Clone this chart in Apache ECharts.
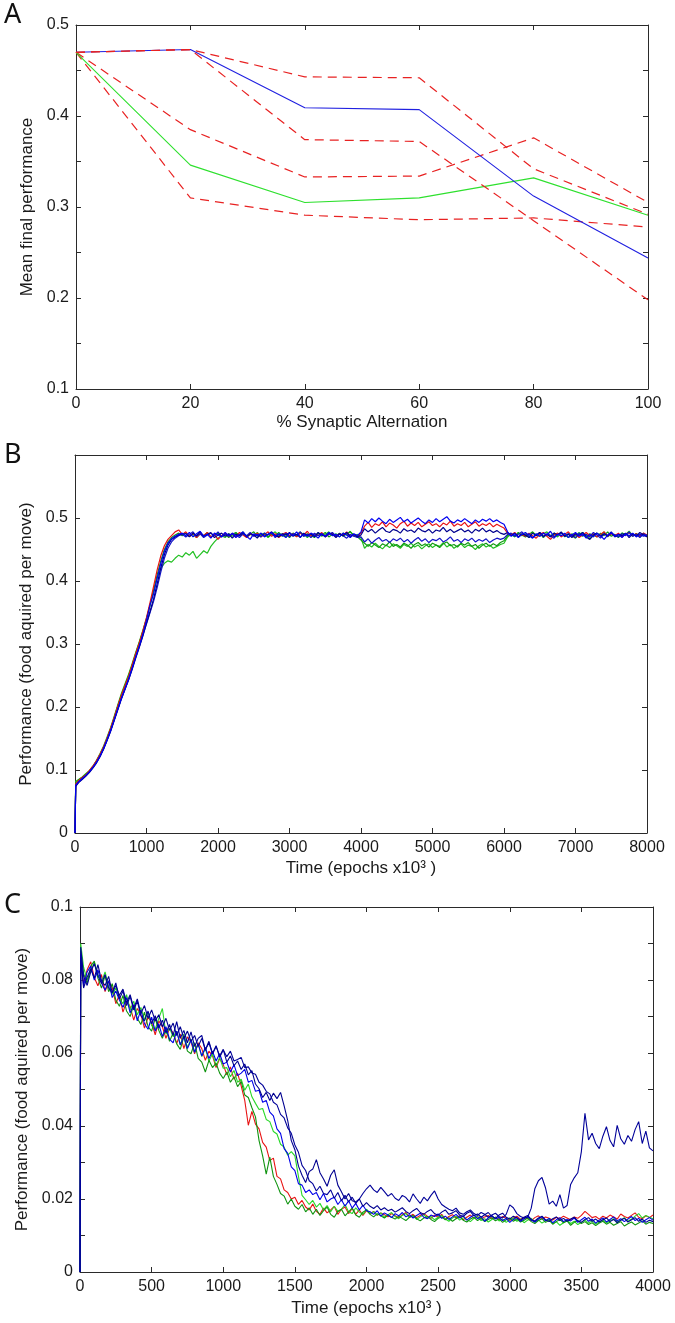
<!DOCTYPE html>
<html>
<head>
<meta charset="utf-8">
<script src="https://cdn.jsdelivr.net/npm/echarts@6/dist/echarts.min.js"></script>
<style>html,body{margin:0;padding:0;background:#fff}#c{width:675px;height:1323px}</style>
</head>
<body>
<div id="c"></div>
<script>
// ---------- Panel A ----------
const pctA = [0, 20, 40, 60, 80, 100];
const blueA = [0.470, 0.473, 0.409, 0.407, 0.312, 0.244];
const greenA = [0.470, 0.346, 0.305, 0.310, 0.332, 0.291];
const redA1 = [0.470, 0.473, 0.443, 0.442, 0.342, 0.292];
const redA2 = [0.470, 0.473, 0.374, 0.372, 0.285, 0.198];
const redA3 = [0.470, 0.385, 0.333, 0.334, 0.376, 0.305];
const redA4 = [0.470, 0.310, 0.291, 0.286, 0.288, 0.278];

// ---------- Panel B (sample times: 0, 10, then every 50 up to 8000) ----------
const timeB = [0, 10];
for (let t = 50; t <= 8000; t += 50) timeB.push(t);

const redB = [0, 0.078,
0.083,0.088,0.092,0.099,0.106,0.115,0.125,0.137,0.151,0.167,0.184,0.202,0.219,0.234,0.249,0.267,0.285,0.302,0.321,0.342,0.366,0.392,0.418,0.440,0.456,0.466,0.472,0.478,0.481,0.474,
0.478,0.471,0.476,0.469,0.475,0.472,0.477,0.470,0.474,0.466,0.472,0.476,0.471,0.475,0.470,0.477,0.473,0.469,0.475,0.472,0.476,0.470,0.474,0.478,0.471,0.475,0.469,0.474,0.477,0.472,0.475,0.470,0.476,0.473,0.479,0.471,0.475,0.472,0.477,0.470,0.474,0.476,0.471,0.475,0.473,0.478,0.470,0.474,0.471,
0.476,
0.487,0.493,0.485,0.491,0.488,0.494,0.486,0.492,0.489,0.484,0.491,0.495,0.487,0.492,0.488,0.493,0.486,0.490,0.494,0.488,0.491,0.486,0.492,0.489,0.495,0.487,0.491,0.488,0.493,0.486,0.490,0.494,0.487,0.491,0.488,0.492,0.486,0.490,0.487,
0.484,0.476,
0.473,0.477,0.470,0.474,0.471,0.476,0.472,0.468,0.474,0.477,0.471,0.466,0.473,0.476,0.470,0.474,0.478,0.471,0.475,0.469,0.473,0.477,0.472,0.475,0.470,0.474,0.478,0.471,0.475,0.472,0.476,0.470,0.474,0.477,0.472,0.475,0.471,0.476,0.473];

const blueB = [0, 0.076,
0.081,0.086,0.091,0.097,0.104,0.112,0.122,0.134,0.148,0.163,0.180,0.197,0.214,0.229,0.244,0.262,0.280,0.297,0.316,0.338,0.362,0.380,0.405,0.428,0.447,0.460,0.467,0.471,0.474,0.476,
0.472,0.477,0.470,0.475,0.479,0.471,0.474,0.468,0.476,0.473,0.470,0.477,0.472,0.475,0.469,0.474,0.478,0.471,0.466,0.475,0.472,0.476,0.470,0.474,0.477,0.471,0.475,0.473,0.469,0.476,0.472,0.478,0.470,0.474,0.471,0.476,0.473,0.468,0.475,0.471,0.477,0.472,0.474,0.470,0.476,0.473,0.469,0.475,0.472,
0.478,
0.497,0.492,0.499,0.494,0.500,0.495,0.491,0.498,0.493,0.497,0.501,0.494,0.498,0.492,0.496,0.500,0.495,0.491,0.497,0.493,0.499,0.494,0.498,0.502,0.495,0.492,0.497,0.494,0.499,0.495,0.491,0.497,0.493,0.498,0.495,0.499,0.494,0.497,0.493,
0.490,0.478,
0.471,0.475,0.469,0.474,0.477,0.472,0.468,0.475,0.471,0.476,0.473,0.479,0.470,0.474,0.472,0.476,0.469,0.473,0.477,0.471,0.475,0.468,0.474,0.470,0.476,0.472,0.466,0.473,0.477,0.471,0.474,0.469,0.475,0.472,0.476,0.470,0.474,0.471,0.473];

const navyB = [0, 0.074,
0.080,0.085,0.090,0.096,0.103,0.111,0.121,0.133,0.147,0.162,0.179,0.196,0.213,0.228,0.243,0.260,0.278,0.295,0.313,0.333,0.352,0.372,0.396,0.421,0.442,0.457,0.466,0.470,0.473,0.475,
0.475,0.470,0.476,0.472,0.478,0.471,0.474,0.477,0.469,0.473,0.476,0.471,0.475,0.468,0.474,0.472,0.477,0.470,0.475,0.473,0.468,0.476,0.471,0.474,0.478,0.472,0.470,0.475,0.473,0.477,0.471,0.474,0.469,0.476,0.472,0.475,0.470,0.477,0.473,0.471,0.476,0.474,0.469,0.475,0.472,0.477,0.471,0.474,0.470,
0.473,
0.483,0.478,0.482,0.476,0.481,0.485,0.479,0.477,0.482,0.480,0.476,0.483,0.479,0.481,0.477,0.484,0.480,0.478,0.482,0.476,0.481,0.479,0.485,0.478,0.482,0.477,0.480,0.483,0.478,0.481,0.476,0.482,0.479,0.484,0.478,0.481,0.477,0.480,0.476,
0.474,0.477,
0.472,0.476,0.470,0.475,0.473,0.469,0.476,0.472,0.477,0.471,0.474,0.470,0.476,0.473,0.478,0.471,0.474,0.469,0.475,0.472,0.477,0.470,0.466,0.473,0.476,0.471,0.475,0.472,0.478,0.470,0.474,0.472,0.476,0.469,0.475,0.471,0.477,0.473,0.470];

const blue2B = [0, 0.075,
0.081,0.086,0.091,0.097,0.104,0.112,0.122,0.134,0.148,0.163,0.180,0.197,0.214,0.229,0.244,0.261,0.279,0.296,0.314,0.332,0.350,0.368,0.390,0.414,0.436,0.452,0.462,0.468,0.472,0.474,
0.470,0.474,0.478,0.471,0.475,0.469,0.473,0.476,0.472,0.478,0.470,0.474,0.471,0.476,0.473,0.469,0.475,0.472,0.477,0.471,0.474,0.470,0.476,0.473,0.477,0.469,0.474,0.472,0.476,0.470,0.475,0.473,0.478,0.471,0.474,0.469,0.476,0.472,0.475,0.470,0.474,0.477,0.471,0.475,0.472,0.468,0.474,0.471,0.469,
0.470,
0.462,0.467,0.460,0.465,0.469,0.463,0.466,0.461,0.467,0.464,0.468,0.462,0.466,0.460,0.465,0.469,0.463,0.467,0.461,0.466,0.464,0.468,0.462,0.465,0.470,0.463,0.466,0.461,0.467,0.464,0.468,0.462,0.466,0.463,0.467,0.461,0.465,0.468,0.466,
0.468,0.474,
0.476,0.471,0.474,0.478,0.472,0.475,0.469,0.473,0.477,0.470,0.475,0.472,0.468,0.474,0.476,0.471,0.475,0.473,0.469,0.476,0.472,0.474,0.470,0.477,0.473,0.468,0.475,0.471,0.476,0.473,0.470,0.475,0.472,0.478,0.471,0.474,0.469,0.475,0.472];

const greenB = [0, 0.082,
0.085,0.089,0.094,0.099,0.106,0.115,0.126,0.138,0.153,0.168,0.186,0.204,0.222,0.237,0.252,0.269,0.287,0.304,0.322,0.341,0.362,0.385,0.405,0.420,0.428,0.432,0.430,0.436,0.441,0.438,
0.445,0.441,0.447,0.436,0.442,0.448,0.444,0.455,0.462,0.468,
0.472,0.469,0.475,0.471,0.476,0.473,0.478,0.470,0.474,0.472,0.477,0.471,0.475,0.469,0.474,0.478,0.472,0.475,0.470,0.476,0.473,0.471,0.477,0.474,0.469,0.475,0.472,0.476,0.471,0.474,0.478,0.472,0.475,0.470,0.476,0.473,0.479,0.471,0.474,
0.468,
0.452,0.458,0.454,0.460,0.455,0.451,0.457,0.453,0.459,0.456,0.452,0.458,0.455,0.460,0.454,0.457,0.451,0.456,0.459,0.453,0.457,0.455,0.461,0.454,0.458,0.452,0.456,0.459,0.453,0.457,0.455,0.450,0.456,0.459,0.454,0.457,0.452,0.455,0.458,
0.460,0.470,
0.474,0.470,0.476,0.472,0.475,0.469,0.477,0.473,0.471,0.475,0.478,0.472,0.474,0.470,0.476,0.473,0.469,0.475,0.472,0.477,0.471,0.474,0.467,0.473,0.476,0.472,0.478,0.470,0.475,0.473,0.471,0.476,0.474,0.479,0.472,0.475,0.470,0.474,0.472];

const dgreenB = [0, 0.080,
0.084,0.088,0.093,0.098,0.105,0.114,0.124,0.136,0.150,0.166,0.184,0.202,0.220,0.235,0.250,0.267,0.285,0.302,0.320,0.340,0.362,0.386,0.410,0.432,0.450,0.462,0.469,0.473,0.476,0.472,
0.476,0.471,0.474,0.469,0.475,0.472,0.477,0.470,0.473,0.476,0.471,0.475,0.469,0.474,0.477,0.472,0.475,0.470,0.474,0.478,0.471,0.473,0.476,0.470,0.475,0.472,0.477,0.471,0.474,0.469,0.476,0.473,0.478,0.471,0.475,0.472,0.469,0.476,0.473,0.477,0.470,0.474,0.472,0.476,0.471,0.475,0.478,0.473,0.470,
0.465,
0.460,0.455,0.461,0.457,0.453,0.459,0.456,0.462,0.455,0.458,0.454,0.460,0.457,0.452,0.458,0.461,0.456,0.459,0.454,0.460,0.457,0.453,0.459,0.462,0.456,0.458,0.454,0.460,0.457,0.461,0.455,0.458,0.452,0.457,0.460,0.455,0.459,0.456,0.461,
0.464,0.472,
0.475,0.471,0.477,0.473,0.470,0.474,0.478,0.472,0.476,0.469,0.474,0.471,0.476,0.473,0.477,0.470,0.475,0.472,0.468,0.474,0.477,0.471,0.475,0.473,0.470,0.476,0.472,0.478,0.471,0.474,0.469,0.476,0.473,0.477,0.471,0.475,0.472,0.476,0.471];

// ---------- Panel C (sample times: 0, 5, then every 25 up to 4000) ----------
const timeC = [0, 5];
for (let t = 25; t <= 4000; t += 25) timeC.push(t);

const redC = [0, 0.0840,
0.0792,0.0828,0.0850,0.0806,0.0784,0.0815,0.0768,0.0796,0.0779,0.0735,0.0760,0.0712,0.0741,0.0728,0.0690,0.0722,0.0705,0.0668,0.0698,0.0684,0.0650,0.0688,0.0672,0.0640,0.0668,0.0655,0.0626,0.0652,0.0612,0.0644,0.0630,0.0598,0.0628,0.0612,0.0580,0.0605,0.0592,0.0560,0.0585,0.0568,
0.0540,0.0562,0.0528,0.0545,0.0510,0.0470,0.0402,0.0440,0.0405,0.0392,0.0355,0.0342,0.0305,0.0312,0.0262,0.0255,0.0225,0.0218,0.0200,0.0205,0.0185,0.0196,0.0178,0.0170,0.0186,0.0166,0.0158,0.0175,0.0162,0.0170,0.0180,0.0158,0.0172,0.0178,0.0160,0.0174,0.0158,0.0170,0.0155,0.0168,
0.0159,0.0166,0.0155,0.0162,0.0157,0.0151,0.0160,0.0154,0.0148,0.0157,0.0163,0.0152,0.0158,0.0149,0.0155,0.0160,0.0153,0.0147,0.0156,0.0150,0.0158,0.0145,0.0152,0.0157,0.0148,0.0154,0.0143,0.0150,0.0156,0.0147,0.0152,0.0145,0.0151,0.0155,0.0146,0.0150,0.0144,0.0152,0.0147,0.0141,
0.0148,0.0153,0.0144,0.0150,0.0146,0.0140,0.0149,0.0154,0.0145,0.0151,0.0147,0.0142,0.0150,0.0146,0.0153,0.0148,0.0143,0.0151,0.0147,0.0155,0.0166,0.0158,0.0149,0.0152,0.0145,0.0153,0.0148,0.0156,0.0151,0.0145,0.0159,0.0152,0.0148,0.0155,0.0162,0.0150,0.0146,0.0154,0.0149,0.0156];

const dgreenC = [0, 0.0880,
0.0818,0.0790,0.0838,0.0852,0.0805,0.0778,0.0812,0.0768,0.0790,0.0745,0.0728,0.0758,0.0715,0.0700,0.0732,0.0695,0.0678,0.0712,0.0672,0.0660,0.0695,0.0662,0.0640,0.0668,0.0632,0.0655,0.0625,0.0610,0.0645,0.0605,0.0598,0.0628,0.0585,0.0575,0.0548,0.0580,0.0560,0.0572,0.0545,0.0530,
0.0548,0.0520,0.0535,0.0508,0.0522,0.0485,0.0478,0.0450,0.0425,0.0360,0.0318,0.0268,0.0315,0.0262,0.0240,0.0215,0.0208,0.0186,0.0200,0.0180,0.0172,0.0185,0.0165,0.0176,0.0158,0.0172,0.0155,0.0168,0.0178,0.0158,0.0150,0.0166,0.0172,0.0154,0.0165,0.0175,0.0156,0.0150,0.0164,0.0170,
0.0158,0.0151,0.0160,0.0154,0.0148,0.0156,0.0150,0.0145,0.0153,0.0147,0.0141,0.0150,0.0155,0.0146,0.0140,0.0148,0.0152,0.0144,0.0138,0.0147,0.0151,0.0143,0.0149,0.0139,0.0146,0.0152,0.0142,0.0137,0.0145,0.0150,0.0141,0.0147,0.0138,0.0144,0.0149,0.0140,0.0146,0.0136,0.0143,0.0148,
0.0139,0.0145,0.0137,0.0142,0.0148,0.0138,0.0133,0.0141,0.0146,0.0136,0.0142,0.0131,0.0138,0.0144,0.0135,0.0140,0.0128,0.0136,0.0141,0.0133,0.0138,0.0130,0.0135,0.0127,0.0134,0.0139,0.0131,0.0136,0.0128,0.0133,0.0138,0.0126,0.0132,0.0137,0.0129,0.0134,0.0140,0.0131,0.0136,0.0133];

const greenC = [0, 0.0900,
0.0835,0.0800,0.0825,0.0848,0.0815,0.0795,0.0822,0.0782,0.0760,0.0778,0.0750,0.0735,0.0760,0.0718,0.0742,0.0705,0.0725,0.0692,0.0712,0.0675,0.0665,0.0695,0.0722,0.0652,0.0668,0.0645,0.0660,0.0622,0.0652,0.0615,0.0638,0.0602,0.0625,0.0590,0.0612,0.0578,0.0598,0.0565,0.0588,0.0558,
0.0560,0.0535,0.0552,0.0520,0.0528,0.0498,0.0515,0.0480,0.0462,0.0445,0.0448,0.0418,0.0412,0.0385,0.0378,0.0350,0.0342,0.0320,0.0330,0.0318,0.0262,0.0210,0.0198,0.0185,0.0196,0.0178,0.0188,0.0170,0.0182,0.0165,0.0180,0.0166,0.0172,0.0185,0.0165,0.0160,0.0176,0.0164,0.0158,0.0172,
0.0160,0.0165,0.0156,0.0162,0.0150,0.0157,0.0163,0.0152,0.0146,0.0155,0.0160,0.0149,0.0154,0.0144,0.0151,0.0157,0.0147,0.0152,0.0143,0.0150,0.0155,0.0145,0.0139,0.0148,0.0153,0.0142,0.0149,0.0144,0.0138,0.0147,0.0152,0.0141,0.0146,0.0137,0.0144,0.0150,0.0140,0.0145,0.0136,0.0143,
0.0148,0.0139,0.0145,0.0135,0.0142,0.0147,0.0137,0.0143,0.0134,0.0140,0.0146,0.0132,0.0138,0.0128,0.0135,0.0141,0.0133,0.0139,0.0130,0.0136,0.0142,0.0134,0.0140,0.0131,0.0137,0.0143,0.0135,0.0140,0.0146,0.0137,0.0142,0.0149,0.0139,0.0145,0.0153,0.0160,0.0148,0.0155,0.0150,0.0146];

const blueC = [0, 0.0870,
0.0785,0.0822,0.0838,0.0800,0.0828,0.0792,0.0772,0.0798,0.0752,0.0770,0.0745,0.0725,0.0752,0.0710,0.0732,0.0688,0.0718,0.0680,0.0665,0.0698,0.0660,0.0680,0.0645,0.0672,0.0638,0.0628,0.0660,0.0622,0.0645,0.0612,0.0635,0.0602,0.0625,0.0592,0.0615,0.0585,0.0605,0.0578,0.0598,0.0570,
0.0575,0.0548,0.0568,0.0538,0.0545,0.0555,0.0520,0.0525,0.0495,0.0498,0.0465,0.0470,0.0438,0.0428,0.0392,0.0380,0.0338,0.0325,0.0288,0.0278,0.0242,0.0238,0.0218,0.0225,0.0212,0.0218,0.0198,0.0215,0.0192,0.0200,0.0205,0.0185,0.0198,0.0180,0.0195,0.0175,0.0188,0.0170,0.0183,0.0168,
0.0165,0.0158,0.0168,0.0153,0.0162,0.0156,0.0149,0.0160,0.0154,0.0163,0.0151,0.0157,0.0148,0.0155,0.0161,0.0150,0.0146,0.0156,0.0152,0.0159,0.0147,0.0153,0.0144,0.0151,0.0158,0.0148,0.0154,0.0142,0.0150,0.0156,0.0146,0.0152,0.0139,0.0148,0.0155,0.0145,0.0150,0.0141,0.0147,0.0136,
0.0144,0.0150,0.0139,0.0146,0.0152,0.0142,0.0137,0.0145,0.0151,0.0140,0.0147,0.0135,0.0143,0.0149,0.0138,0.0144,0.0140,0.0148,0.0136,0.0143,0.0150,0.0139,0.0145,0.0134,0.0142,0.0148,0.0137,0.0144,0.0151,0.0140,0.0146,0.0138,0.0145,0.0152,0.0141,0.0147,0.0136,0.0143,0.0149,0.0142];

const navyC = [0, 0.0860,
0.0778,0.0808,0.0830,0.0805,0.0842,0.0798,0.0785,0.0810,0.0765,0.0785,0.0758,0.0775,0.0738,0.0760,0.0722,0.0748,0.0708,0.0730,0.0695,0.0718,0.0688,0.0705,0.0672,0.0695,0.0662,0.0682,0.0648,0.0672,0.0640,0.0660,0.0632,0.0648,0.0618,0.0640,0.0608,0.0632,0.0598,0.0618,0.0592,0.0610,
0.0575,0.0592,0.0565,0.0578,0.0555,0.0570,0.0540,0.0552,0.0515,0.0502,0.0478,0.0492,0.0470,0.0490,0.0475,0.0492,0.0455,0.0415,0.0360,0.0335,0.0290,0.0265,0.0245,0.0275,0.0282,0.0308,0.0272,0.0255,0.0235,0.0265,0.0280,0.0238,0.0220,0.0200,0.0215,0.0195,0.0192,0.0200,0.0180,0.0190,
0.0180,0.0174,0.0182,0.0170,0.0176,0.0168,0.0172,0.0164,0.0170,0.0176,0.0166,0.0160,0.0168,0.0174,0.0163,0.0158,0.0166,0.0171,0.0160,0.0155,0.0164,0.0170,0.0158,0.0162,0.0168,0.0156,0.0152,0.0161,0.0166,0.0154,0.0159,0.0150,0.0157,0.0163,0.0152,0.0147,0.0156,0.0161,0.0150,0.0145,
0.0153,0.0148,0.0142,0.0150,0.0155,0.0144,0.0140,0.0148,0.0153,0.0143,0.0138,0.0146,0.0151,0.0141,0.0147,0.0139,0.0145,0.0150,0.0140,0.0136,0.0144,0.0149,0.0139,0.0145,0.0137,0.0143,0.0148,0.0138,0.0144,0.0135,0.0142,0.0147,0.0137,0.0143,0.0149,0.0139,0.0145,0.0136,0.0142,0.0138];

const navy2C = [0, 0.0890,
0.0810,0.0785,0.0822,0.0845,0.0812,0.0790,0.0815,0.0778,0.0765,0.0792,0.0748,0.0770,0.0730,0.0755,0.0718,0.0742,0.0702,0.0688,0.0715,0.0680,0.0702,0.0668,0.0690,0.0655,0.0678,0.0648,0.0686,0.0640,0.0662,0.0628,0.0658,0.0618,0.0640,0.0648,0.0608,0.0628,0.0598,0.0620,0.0588,0.0608,
0.0590,0.0605,0.0578,0.0582,0.0588,0.0560,0.0562,0.0545,0.0542,0.0520,0.0512,0.0495,0.0488,0.0465,0.0458,0.0432,0.0422,0.0395,0.0380,0.0348,0.0328,0.0292,0.0278,0.0250,0.0242,0.0222,0.0235,0.0215,0.0212,0.0225,0.0202,0.0218,0.0195,0.0210,0.0192,0.0205,0.0188,0.0200,0.0215,0.0228,
0.0238,0.0225,0.0218,0.0232,0.0220,0.0208,0.0215,0.0202,0.0196,0.0210,0.0204,0.0192,0.0214,0.0200,0.0188,0.0205,0.0195,0.0210,0.0222,0.0200,0.0185,0.0178,0.0172,0.0168,0.0175,0.0162,0.0158,0.0165,0.0170,0.0160,0.0155,0.0163,0.0158,0.0150,0.0156,0.0161,0.0152,0.0148,0.0158,0.0184,
0.0176,0.0160,0.0152,0.0148,0.0150,0.0175,0.0228,0.0250,0.0259,0.0230,0.0186,0.0194,0.0180,0.0212,0.0175,0.0182,0.0240,0.0258,0.0272,0.0330,0.0435,0.0362,0.0380,0.0352,0.0338,0.0372,0.0398,0.0360,0.0343,0.0402,0.0365,0.0350,0.0374,0.0358,0.0390,0.0412,0.0352,0.0386,0.0340,0.0332];

// ---------- labels ----------
const panelLetters = ['A', 'B', 'C'];
const xNames = ['% Synaptic Alternation', 'Time (epochs x10\u00B3 )', 'Time (epochs x10\u00B3 )'];
const yNames = ['Mean final performance', 'Performance (food aquired per move)', 'Performance (food aquired per move)'];

// ---------- build ----------
const FONT = 'Liberation Sans, Arial, sans-serif';
const AX = '#2a2a2a';
const grids = [
  {left: 76, top: 25, width: 572, height: 364},
  {left: 75, top: 455, width: 572, height: 378},
  {left: 80, top: 907, width: 573, height: 365}
];
const xr = [[0, 100, 20], [0, 8000, 1000], [0, 4000, 500]];
const yr = [[0.1, 0.5, 0.05], [0, 0.6, 0.1], [0, 0.1, 0.01]];
const yFmt = [
  v => (Math.abs(v * 10 - Math.round(v * 10)) < 1e-6) ? String(+v.toFixed(2)) : '',
  v => (v > 0.55) ? '' : String(+v.toFixed(2)),
  v => (Math.abs(v * 50 - Math.round(v * 50)) < 1e-6) ? String(+v.toFixed(3)) : ''
];
const xGaps = [25, 27, 28];
const yGaps = [40, 36, 41];

const xAxis = [], yAxis = [];
for (let i = 0; i < 3; i++) {
  const common = {
    type: 'value', gridIndex: i, min: xr[i][0], max: xr[i][1], interval: xr[i][2],
    splitLine: {show: false},
    axisLine: {show: true, onZero: false, lineStyle: {color: AX, width: 1}},
    axisTick: {show: true, inside: true, length: 5, lineStyle: {color: AX}}
  };
  xAxis.push(Object.assign({}, common, {
    position: 'bottom',
    axisLabel: {show: true, color: '#1a1a1a', fontSize: 16, fontFamily: FONT, margin: 7, formatter: v => String(v)},
    name: xNames[i], nameLocation: 'middle', nameGap: xGaps[i],
    nameTextStyle: {color: '#1a1a1a', fontSize: 17, fontFamily: FONT}
  }));
  xAxis.push(Object.assign({}, common, {position: 'top', axisLabel: {show: false}}));
  const ycommon = {
    type: 'value', gridIndex: i, min: yr[i][0], max: yr[i][1], interval: yr[i][2],
    splitLine: {show: false},
    axisLine: {show: true, onZero: false, lineStyle: {color: AX, width: 1}},
    axisTick: {show: true, inside: true, length: 5, lineStyle: {color: AX}}
  };
  yAxis.push(Object.assign({}, ycommon, {
    position: 'left',
    axisLabel: {show: true, color: '#1a1a1a', fontSize: 16, fontFamily: FONT, margin: 7, formatter: yFmt[i]},
    name: yNames[i], nameLocation: 'middle', nameGap: yGaps[i], nameRotate: 90,
    nameTextStyle: {color: '#1a1a1a', fontSize: 17, fontFamily: FONT}
  }));
  yAxis.push(Object.assign({}, ycommon, {position: 'right', axisLabel: {show: false}}));
}

function line(panel, xs, ys, color, width, dash, z) {
  return {
    type: 'line', xAxisIndex: panel * 2, yAxisIndex: panel * 2,
    data: xs.map((x, k) => [x, ys[k]]),
    showSymbol: false, symbol: 'none', silent: true, z: z || 2,
    lineStyle: {color: color, width: width, type: dash || 'solid'}
  };
}

const RED = '#e82222', GRN = '#2ee02e', BLU = '#2020e0';
const series = [
  line(0, pctA, redA4, RED, 1.2, [9, 6]),
  line(0, pctA, redA3, RED, 1.2, [9, 6]),
  line(0, pctA, greenA, GRN, 1.1),
  line(0, pctA, blueA, BLU, 1.1),
  line(0, pctA, redA2, RED, 1.2, [9, 6]),
  line(0, pctA, redA1, RED, 1.2, [9, 6]),

  line(1, timeB, greenB, '#22c022', 1.2),
  line(1, timeB, dgreenB, '#129a12', 1.2),
  line(1, timeB, redB, '#e81414', 1.2),
  line(1, timeB, blue2B, '#1414c8', 1.2),
  line(1, timeB, navyB, '#00008f', 1.2),
  line(1, timeB, blueB, '#0000f0', 1.2),

  line(2, timeC, redC, '#e81414', 1.1),
  line(2, timeC, greenC, '#28d828', 1.1),
  line(2, timeC, dgreenC, '#109410', 1.1),
  line(2, timeC, blueC, '#0000e8', 1.1),
  line(2, timeC, navyC, '#00008f', 1.1),
  line(2, timeC, navy2C, '#000099', 1.1)
];

const letterTops = [2, 442, 892];
const graphic = panelLetters.map((L, i) => ({
  type: 'text', left: 4, top: letterTops[i], silent: true,
  style: {text: L, fontSize: 27, fontFamily: 'Noto Sans, DejaVu Sans, sans-serif', fill: '#111'}
}));

const chart = echarts.init(document.getElementById('c'), null, {renderer: 'canvas'});
chart.setOption({
  animation: false,
  backgroundColor: '#ffffff',
  grid: grids,
  xAxis: xAxis,
  yAxis: yAxis,
  series: series,
  graphic: graphic
});
</script>
</body>
</html>
